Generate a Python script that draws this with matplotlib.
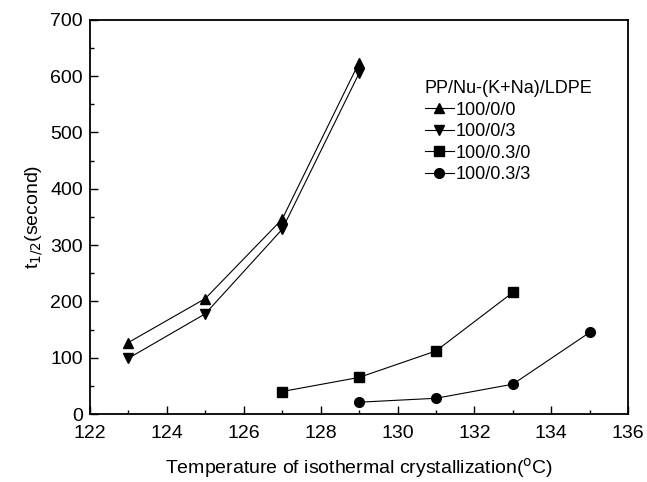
import matplotlib
matplotlib.use('Agg')
import matplotlib.pyplot as plt
from matplotlib.ticker import MultipleLocator

plt.rcParams['font.family'] = ['Liberation Sans', 'DejaVu Sans']

# PP/Nu-(K+Na)/LDPE half-time of crystallization
t_000 = [123, 125, 127, 129]
v_000 = [127, 205, 346, 624]

t_003 = [123, 125, 127, 129]
v_003 = [99, 178, 328, 605]

t_0030 = [127, 129, 131, 133]
v_0030 = [40, 65, 112, 216]

t_0033 = [129, 131, 133, 135]
v_0033 = [21, 28, 53, 145]

labels = ['100/0/0', '100/0/3', '100/0.3/0', '100/0.3/3']

fig = plt.figure(figsize=(6.47, 4.82), dpi=100)
ax = fig.add_axes([0.139, 0.141, 0.832, 0.818])

ax.plot(t_000, v_000, 'k-', marker='^', ms=7.5, lw=0.8, label=labels[0])
ax.plot(t_003, v_003, 'k-', marker='v', ms=7.5, lw=0.8, label=labels[1])
ax.plot(t_0030, v_0030, 'k-', marker='s', ms=6.5, lw=0.8, label=labels[2])
ax.plot(t_0033, v_0033, 'k-', marker='o', ms=7, lw=0.8, label=labels[3])

ax.set_xlim(122, 136)
ax.set_ylim(0, 700)
ax.xaxis.set_major_locator(MultipleLocator(2))
ax.xaxis.set_minor_locator(MultipleLocator(1))
ax.yaxis.set_major_locator(MultipleLocator(100))
ax.yaxis.set_minor_locator(MultipleLocator(50))
ax.tick_params(which='both', direction='in', labelsize=14, width=1)
ax.tick_params(which='major', length=6)
ax.tick_params(which='minor', length=3)
ax.tick_params(axis='x', pad=8)
ax.tick_params(axis='y', pad=5)
for s in ax.spines.values():
    s.set_linewidth(1.3)

ax.set_xlabel('Temperature of isothermal crystallization($^{\\rm o}$C)', fontsize=14, labelpad=10)
ax.set_ylabel('t$_{1/2}$(second)', fontsize=14, labelpad=4)

leg = ax.legend(title='PP/Nu-(K+Na)/LDPE', loc='upper left', bbox_to_anchor=(0.605, 0.87),
                frameon=False, fontsize=13, title_fontsize=13, handlelength=1.6,
                handletextpad=0.1, labelspacing=0.25, borderpad=0)
leg._legend_box.align = 'left'

fig.savefig('out.png', dpi=100)
